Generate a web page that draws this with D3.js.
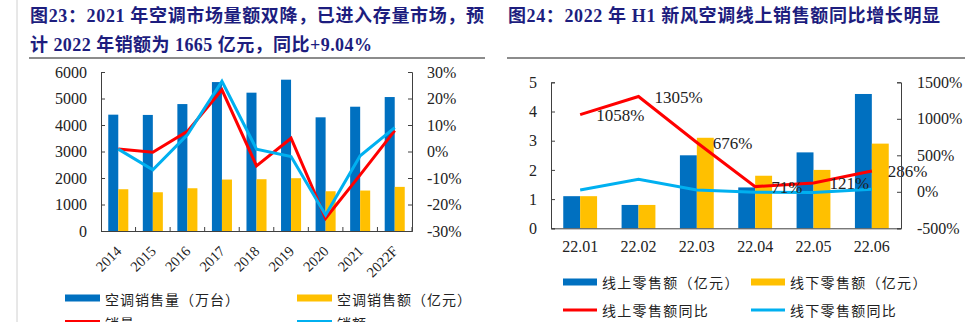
<!DOCTYPE html>
<html>
<head>
<meta charset="utf-8">
<script src="https://cdn.jsdelivr.net/npm/d3@7"></script>
<style>
  body { margin: 0; background: #fff; }
  svg { display: block; }
  .tick text { font-family: "Liberation Serif", "Noto Sans CJK SC", serif; fill: #222; }
</style>
</head>
<body>
<div class="chart"></div>
<script>
// ---- data: figure 23 ----
var years = ["2014", "2015", "2016", "2017", "2018", "2019", "2020", "2021", "2022F"];
var salesVolume = [4390, 4380, 4790, 5620, 5220, 5710, 4290, 4690, 5055];   // 万台
var salesAmount = [1576, 1462, 1613, 1941, 1954, 1992, 1500, 1527, 1665];   // 亿元
var volumeYoy = [0.009, -0.003, 0.076, 0.233, -0.054, 0.050, -0.252, -0.088, 0.079];
var amountYoy = [0.009, -0.069, 0.063, 0.265, 0.009, -0.019, -0.240, -0.016, 0.0904];
var leftTicks = [0, 1000, 2000, 3000, 4000, 5000, 6000];
var pctTicks = [-0.3, -0.2, -0.1, 0, 0.1, 0.2, 0.3];

// ---- data: figure 24 ----
var months = ["22.01", "22.02", "22.03", "22.04", "22.05", "22.06"];
var onlineSales = [1.1, 0.8, 2.5, 1.4, 2.6, 4.6];     // 亿元
var offlineSales = [1.1, 0.8, 3.1, 1.8, 2.0, 2.9];    // 亿元
var onlineYoy = [1058, 1305, 676, 71, 121, 286];      // %
var offlineYoy = [25, 171, 25, -7, -11, 34];          // %
var rightTicks = [0, 1, 2, 3, 4, 5];
var yoyTicks = [-500, 0, 500, 1000, 1500];

var BLUE = "#0070C0", YELLOW = "#FFC000", RED = "#FF0000", CYAN = "#00B0F0";
var serif = "'Liberation Serif', 'Noto Sans CJK SC', serif";
var titleColor = "#1d1d7e";

var svg = d3.select(".chart").append("svg")
  .attr("width", 965)
  .attr("height", 322);

// page border at the left
svg.append("line")
  .attr("x1", 17).attr("x2", 17).attr("y1", 0).attr("y2", 322)
  .attr("stroke", "#d0d0d0").attr("stroke-width", 1);

// titles
function title(txt, x, y, len) {
  svg.append("text")
    .attr("x", x).attr("y", y)
    .attr("dominant-baseline", "central")
    .attr("font-family", serif)
    .attr("font-weight", "bold")
    .attr("font-size", "18px")
    .attr("fill", titleColor)
    .attr("textLength", len)
    .attr("lengthAdjust", "spacing")
    .text(txt);
}
title("图23：2021 年空调市场量额双降，已进入存量市场，预", 30, 16, 454);
title("计 2022 年销额为 1665 亿元，同比+9.04%", 30, 45, 342);
title("图24：2022 年 H1 新风空调线上销售额同比增长明显", 508, 16, 432);

svg.append("line").attr("x1", 29).attr("x2", 485).attr("y1", 58).attr("y2", 58)
  .attr("stroke", "#8c8c8c").attr("stroke-width", 2);
svg.append("line").attr("x1", 507).attr("x2", 965).attr("y1", 58).attr("y2", 58)
  .attr("stroke", "#8c8c8c").attr("stroke-width", 2);

function styleAxis(g, size) {
  g.selectAll(".domain").attr("stroke", "#404040");
  g.selectAll(".tick line").attr("stroke", "#404040");
  g.selectAll(".tick text").attr("font-size", size);
}

// ================= Figure 23 =================
var x1 = d3.scaleBand().domain(years).range([101, 412]).padding(0);
var yL1 = d3.scaleLinear().domain([0, 6000]).range([231, 72]);
var yR1 = d3.scaleLinear().domain([-0.3, 0.3]).range([231, 72]);
var bw1 = x1.bandwidth() * 0.29;

var c1 = svg.append("g");

c1.selectAll(".vol").data(years).enter().append("rect")
  .attr("x", function (d) { return x1(d) + x1.bandwidth() / 2 - bw1; })
  .attr("y", function (d, i) { return yL1(salesVolume[i]); })
  .attr("width", bw1)
  .attr("height", function (d, i) { return yL1(0) - yL1(salesVolume[i]); })
  .attr("fill", BLUE);

c1.selectAll(".amt").data(years).enter().append("rect")
  .attr("x", function (d) { return x1(d) + x1.bandwidth() / 2; })
  .attr("y", function (d, i) { return yL1(salesAmount[i]); })
  .attr("width", bw1)
  .attr("height", function (d, i) { return yL1(0) - yL1(salesAmount[i]); })
  .attr("fill", YELLOW);

var line1 = function (arr) {
  return d3.line()
    .x(function (d) { return x1(d) + x1.bandwidth() / 2; })
    .y(function (d, i) { return yR1(arr[i]); })(years);
};
c1.append("path").attr("d", line1(volumeYoy))
  .attr("fill", "none").attr("stroke", RED).attr("stroke-width", 3);
c1.append("path").attr("d", line1(amountYoy))
  .attr("fill", "none").attr("stroke", CYAN).attr("stroke-width", 3);

var gl1 = c1.append("g").attr("transform", "translate(101,0)")
  .call(d3.axisLeft(yL1).tickValues(leftTicks).tickSize(-4).tickPadding(14)
    .tickFormat(d3.format("d")));
styleAxis(gl1, "16px");

var gr1 = c1.append("g").attr("transform", "translate(412,0)")
  .call(d3.axisRight(yR1).tickValues(pctTicks).tickSize(-4).tickPadding(15)
    .tickFormat(function (d) { return Math.round(d * 100) + "%"; }));
styleAxis(gr1, "16px");

var gb1 = c1.append("g").attr("transform", "translate(0,231)")
  .call(d3.axisBottom(x1).tickSize(0).tickPadding(0));
styleAxis(gb1, "14.5px");
gb1.selectAll(".tick text")
  .attr("text-anchor", "end")
  .attr("dy", 0)
  .attr("transform", "translate(4,21) rotate(-45)");
// category separators on the bottom axis
gb1.selectAll(".sep").data(years.slice(1).concat(["end"])).enter().append("line")
  .attr("x1", function (d) { return d === "end" ? 412 : x1(d); })
  .attr("x2", function (d) { return d === "end" ? 412 : x1(d); })
  .attr("y1", 0).attr("y2", -4)
  .attr("stroke", "#404040");

// legend 23 (second row sits at the page's bottom edge, as in the source)
var leg1 = svg.append("g").attr("font-family", serif).attr("font-size", "14px")
  .attr("letter-spacing", "1px").attr("fill", "#222");
var leg1Items = [
  { name: "空调销售量（万台）", color: BLUE, kind: "rect", x: 65, y: 298 },
  { name: "空调销售额（亿元）", color: YELLOW, kind: "rect", x: 297, y: 298 },
  { name: "销量yoy", color: RED, kind: "line", x: 65, y: 322 },
  { name: "销额yoy", color: CYAN, kind: "line", x: 297, y: 322 }
];
leg1Items.forEach(function (d) {
  if (d.kind === "rect") {
    leg1.append("rect").attr("x", d.x).attr("y", d.y - 3.5).attr("width", 35).attr("height", 7).attr("fill", d.color);
  } else {
    leg1.append("line").attr("x1", d.x).attr("x2", d.x + 35).attr("y1", d.y - 0.5).attr("y2", d.y - 0.5)
      .attr("stroke", d.color).attr("stroke-width", 3);
  }
  leg1.append("text").attr("x", d.x + 40).attr("y", d.y + 2)
    .attr("dominant-baseline", "central").text(d.name);
});

// ================= Figure 24 =================
var x2 = d3.scaleBand().domain(months).range([551, 901]).padding(0);
var yL2 = d3.scaleLinear().domain([0, 5]).range([228.3, 82.3]);
var yR2 = d3.scaleLinear().domain([-500, 1500]).range([228.3, 82.3]);
var bw2 = x2.bandwidth() * 0.29;

var c2 = svg.append("g");

c2.selectAll(".on").data(months).enter().append("rect")
  .attr("x", function (d) { return x2(d) + x2.bandwidth() / 2 - bw2; })
  .attr("y", function (d, i) { return yL2(onlineSales[i]); })
  .attr("width", bw2)
  .attr("height", function (d, i) { return yL2(0) - yL2(onlineSales[i]); })
  .attr("fill", BLUE);

c2.selectAll(".off").data(months).enter().append("rect")
  .attr("x", function (d) { return x2(d) + x2.bandwidth() / 2; })
  .attr("y", function (d, i) { return yL2(offlineSales[i]); })
  .attr("width", bw2)
  .attr("height", function (d, i) { return yL2(0) - yL2(offlineSales[i]); })
  .attr("fill", YELLOW);

var line2 = function (arr) {
  return d3.line()
    .x(function (d) { return x2(d) + x2.bandwidth() / 2; })
    .y(function (d, i) { return yR2(arr[i]); })(months);
};
c2.append("path").attr("d", line2(onlineYoy))
  .attr("fill", "none").attr("stroke", RED).attr("stroke-width", 3);
c2.append("path").attr("d", line2(offlineYoy))
  .attr("fill", "none").attr("stroke", CYAN).attr("stroke-width", 3);

// data labels on the online yoy line
c2.selectAll(".lbl").data(months).enter().append("text")
  .attr("x", function (d) { return x2(d) + x2.bandwidth() / 2 + 16; })
  .attr("y", function (d, i) { return yR2(onlineYoy[i]) + 1; })
  .attr("dominant-baseline", "central")
  .attr("font-family", serif)
  .attr("font-size", "17px")
  .attr("fill", "#222")
  .text(function (d, i) { return onlineYoy[i] + "%"; });

var gl2 = c2.append("g").attr("transform", "translate(551,0)")
  .call(d3.axisLeft(yL2).tickValues(rightTicks).tickSize(-4).tickPadding(14)
    .tickFormat(d3.format("d")));
styleAxis(gl2, "16px");

var gr2 = c2.append("g").attr("transform", "translate(901,0)")
  .call(d3.axisRight(yR2).tickValues(yoyTicks).tickSize(-4).tickPadding(16)
    .tickFormat(function (d) { return d + "%"; }));
styleAxis(gr2, "16px");

var gb2 = c2.append("g").attr("transform", "translate(0,228.3)")
  .call(d3.axisBottom(x2).tickSize(0).tickPadding(12));
styleAxis(gb2, "16px");

// legend 24
var leg2 = svg.append("g").attr("font-family", serif).attr("font-size", "14px")
  .attr("letter-spacing", "1.3px").attr("fill", "#222");
var leg2Items = [
  { name: "线上零售额（亿元）", color: BLUE, kind: "rect", x: 563, y: 282 },
  { name: "线下零售额（亿元）", color: YELLOW, kind: "rect", x: 751, y: 282 },
  { name: "线上零售额同比", color: RED, kind: "line", x: 563, y: 310 },
  { name: "线下零售额同比", color: CYAN, kind: "line", x: 751, y: 310 }
];
leg2Items.forEach(function (d) {
  if (d.kind === "rect") {
    leg2.append("rect").attr("x", d.x).attr("y", d.y - 3.5).attr("width", 34).attr("height", 7).attr("fill", d.color);
  } else {
    leg2.append("line").attr("x1", d.x).attr("x2", d.x + 34).attr("y1", d.y).attr("y2", d.y)
      .attr("stroke", d.color).attr("stroke-width", 3);
  }
  leg2.append("text").attr("x", d.x + 39).attr("y", d.y + 1)
    .attr("dominant-baseline", "central").text(d.name);
});
</script>
</body>
</html>
